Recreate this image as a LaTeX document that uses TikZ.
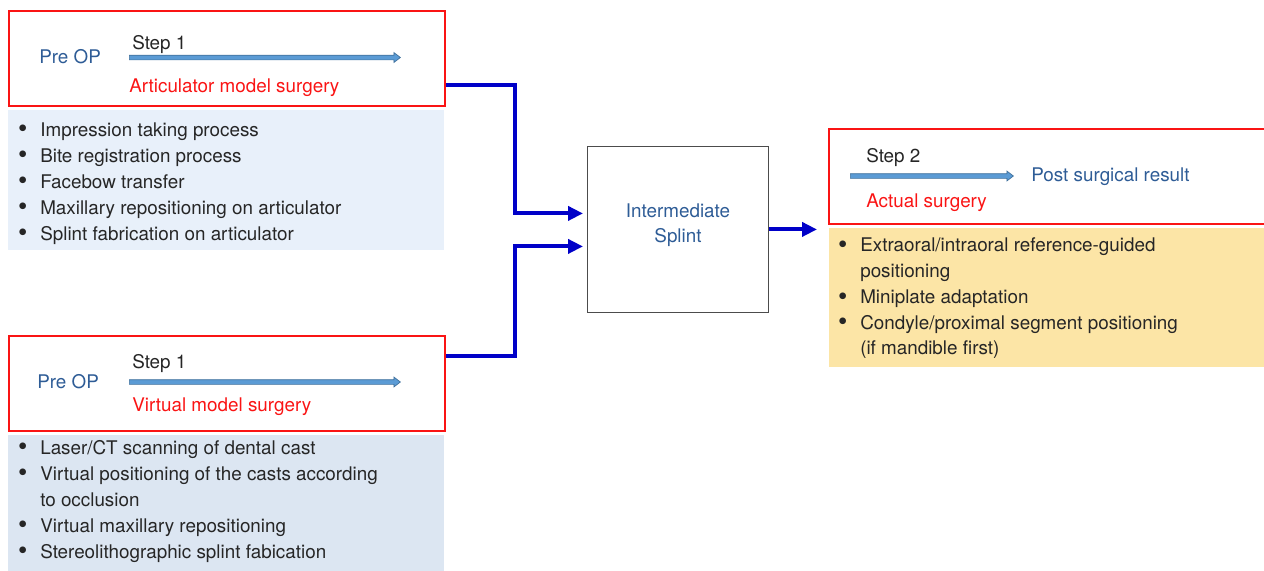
\documentclass[tikz,border=0pt]{standalone}
\usepackage{fontspec}
\setmainfont{TeX Gyre Heros}
\usetikzlibrary{arrows.meta,shapes.arrows}

\definecolor{boxred}{RGB}{250,20,20}
\definecolor{opblue}{RGB}{46,92,150}
\definecolor{linkblue}{RGB}{0,0,200}
\definecolor{stepfill}{RGB}{91,155,213}
\definecolor{stepline}{RGB}{65,113,156}
\definecolor{panelart}{RGB}{232,240,250}
\definecolor{panelvirt}{RGB}{220,230,242}
\definecolor{panelsurg}{RGB}{252,229,166}
\definecolor{textgray}{RGB}{38,38,38}

\newcommand{\bul}{\makebox[5.25mm][l]{\hspace*{-0.3mm}\raisebox{-0.2ex}{\fontsize{19}{16}\selectfont\textbullet}}}
\newcommand{\nobul}{\hspace*{5.25mm}}

\tikzset{
	stagebox/.style = {draw=boxred, line width=1.5pt, rectangle, anchor=north west,
		minimum height=23.75mm, inner sep=0pt},
	panel/.style = {rectangle, anchor=north west, inner sep=0pt},
	optext/.style = {text=opblue},
	steplabel/.style = {text=textgray, anchor=base west, inner sep=0pt},
	stagelabel/.style = {text=boxred, anchor=base west, inner sep=0pt},
	item/.style = {text=textgray, anchor=base west, inner sep=0pt},
	steparrow/.style = {single arrow, draw=stepline, fill=stepfill, anchor=tail,
		inner xsep=0pt, inner ysep=0.5mm, single arrow head extend=0.65mm,
		single arrow tip angle=75, line width=0.5pt},
	link/.style = {draw=linkblue, line width=1mm, line join=miter,
		-{Triangle[length=3.75mm, width=3.5mm]}}
}

\begin{document}
\begin{tikzpicture}[x=0.25mm, y=-0.25mm, font=\fontsize{13.4}{16}\selectfont]
	\useasboundingbox (0,0) rectangle (1264,570);
	
	%	articulator route
	\node[stagebox, minimum width=109mm] (artbox) at (8,10) {};
	\node[optext, anchor=base west, inner sep=0pt] (artop) at (39,63) {Pre OP};
	\node[steplabel] (artstep) at (132,49) {Step 1};
	\node[steparrow, minimum height=67.75mm] (artarrow) at (129,57.5) {};
	\node[stagelabel] (artname) at (129,92) {Articulator model surgery};
	\node[panel, fill=panelart, minimum width=109mm, minimum height=35mm] (artpanel) at (8,110) {};
	\foreach \txt [count=\i] in {Impression taking process, Bite registration process,
		Facebow transfer, Maxillary repositioning on articulator,
		Splint fabrication on articulator}
		\node[item] (art-\i) at (19, 110+26*\i) {\bul\txt};
	
	%	virtual route
	\node[stagebox, minimum width=109mm] (virtbox) at (8,335) {};
	\node[optext, anchor=base west, inner sep=0pt] (virtop) at (37,388) {Pre OP};
	\node[steplabel] (virtstep) at (132,368) {Step 1};
	\node[steparrow, minimum height=67.75mm] (virtarrow) at (129,382) {};
	\node[stagelabel] (virtname) at (132,411) {Virtual model surgery};
	\node[panel, fill=panelvirt, minimum width=109mm, minimum height=36mm] (virtpanel) at (8,435) {};
	\foreach \txt [count=\i] in {\bul Laser/CT scanning of dental cast,
		\bul Virtual positioning of the casts according, \nobul to occlusion,
		\bul Virtual maxillary repositioning, \bul Stereolithographic splint fabication}
		\node[item] (virt-\i) at (19, 428+26*\i) {\txt};
	
	%	splint
	\node[draw=black!70, line width=0.6pt, rectangle, anchor=north west,
		minimum width=45.25mm, minimum height=41.5mm] (splint) at (587,146) {};
	\node[optext, align=center, font=\fontsize{13.4}{17.5}\selectfont] (splinttext) at (678,225) {Intermediate\\Splint};
	
	%	surgery
	\node[stagebox, minimum width=110.5mm] (surgbox) at (828,128) {};
	\node[steplabel] (surgstep) at (866,162) {Step 2};
	\node[steparrow, minimum height=40.75mm] (surgarrow) at (850,176) {};
	\node[optext, anchor=base west, inner sep=0pt] (result) at (1031,181) {Post surgical result};
	\node[stagelabel] (surgname) at (866,207) {Actual surgery};
	\node[panel, fill=panelsurg, minimum width=110.5mm, minimum height=34.75mm] (surgpanel) at (829,228) {};
	\foreach \txt [count=\i] in {\bul Extraoral/intraoral reference-guided, \nobul positioning,
		\bul Miniplate adaptation, \bul Condyle/proximal segment positioning,
		\nobul (if mandible first)}
		\node[item] (surg-\i) at (839, 226+25.75*\i) {\txt};
	
	%	links
	\draw[link] ([yshift=-6.6mm]artbox.east) -- ++(69,0) |- ([xshift=-1mm, yshift=4mm]splint.west);
	\draw[link] ([yshift=6.9mm]virtbox.east) -- ++(69,0) |- ([xshift=-1mm, yshift=-4.25mm]splint.west);
	\draw[link, shorten >=2.75mm] (splint.east) -- (surgbox.west |- splint.east);
\end{tikzpicture}
\end{document}
